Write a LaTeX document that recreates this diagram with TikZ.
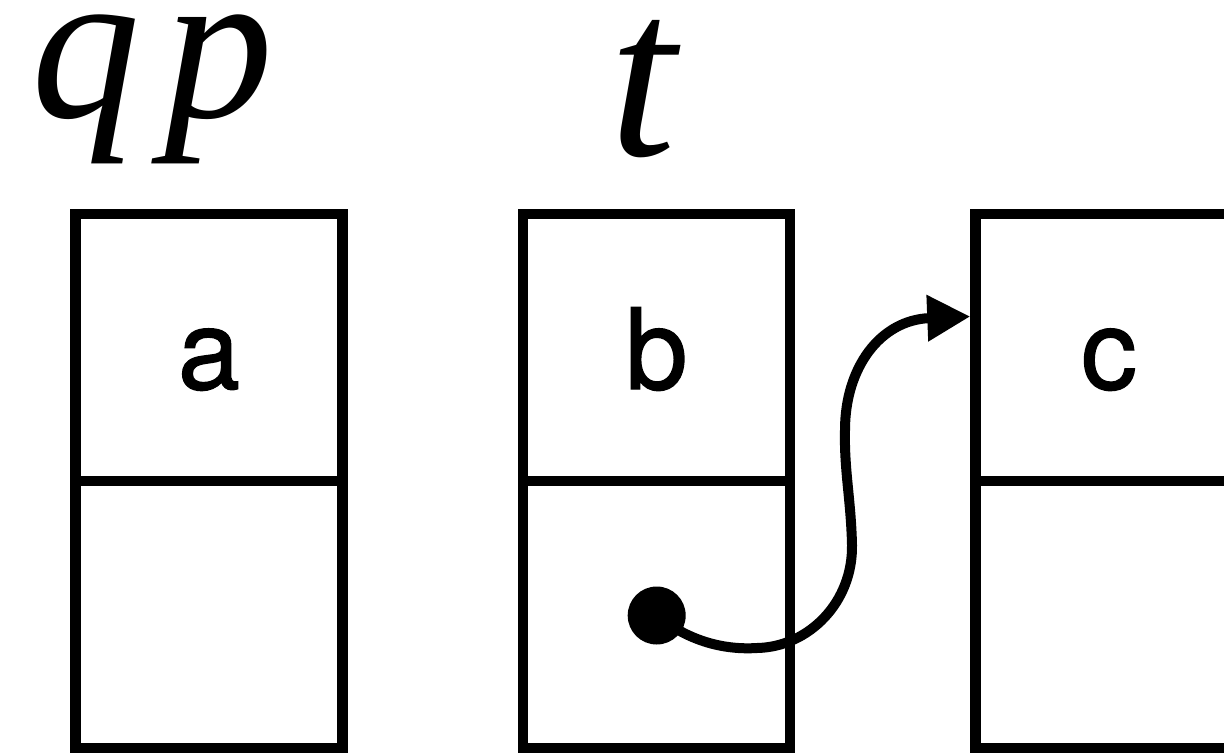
\documentclass[tikz,border=0pt]{standalone}
\usepackage{fontspec}
\usetikzlibrary{arrows.meta,calc}
\newfontfamily\serifit{Liberation Serif}
\newfontfamily\lab{TeX Gyre Heros}[FakeBold=1.2]
\tikzset{
  cell/.style={draw, line width=10.5pt, minimum width=267pt, minimum height=267pt,
    inner sep=0pt, text height=83pt, text depth=0pt,
    font=\lab\fontsize{112}{112}\selectfont},
  varlabel/.style={anchor=base west, inner sep=0pt, font=\serifit\itshape},
  link/.style={line width=10pt, -{Triangle[length=43pt,width=44pt]}},
  dotmark/.style={circle, fill=black, minimum size=58pt, inner sep=0pt}
}
\begin{document}
\begin{tikzpicture}[x=1pt,y=-1pt]
\useasboundingbox (0,0) rectangle (1224,753);
% variable labels
\node[varlabel, font=\serifit\itshape\fontsize{218}{218}\selectfont] (qp) at (31,117) {q\hspace{24pt}p};
\node[varlabel, font=\serifit\itshape\fontsize{240}{240}\selectfont] (t) at (609,155) {t};
% cells
\node[cell] (a) at (209,347.5) {a};
\node[cell] (aa) at (209,614.5) {};
\node[cell] (b) at (656.5,347.5) {b};
\node[cell] (bb) at (656.5,614.5) {};
\node[cell] (c) at (1109,347.5) {c};
\node[cell] (cc) at (1109,614.5) {};
% pointer
\node[dotmark] (dot) at (656.7,615.5) {};
\coordinate (tip) at ($(c.west)+(0,-31)$);
\draw[link] (dot.center) .. controls (690,642) and (725,650) .. (757,648)
  .. controls (809,647) and (853,602) .. (852,545)
  .. controls (851,500) and (844,470) .. (845,430)
  .. controls (845,368) and (880,320) .. (tip);
\end{tikzpicture}
\end{document}
